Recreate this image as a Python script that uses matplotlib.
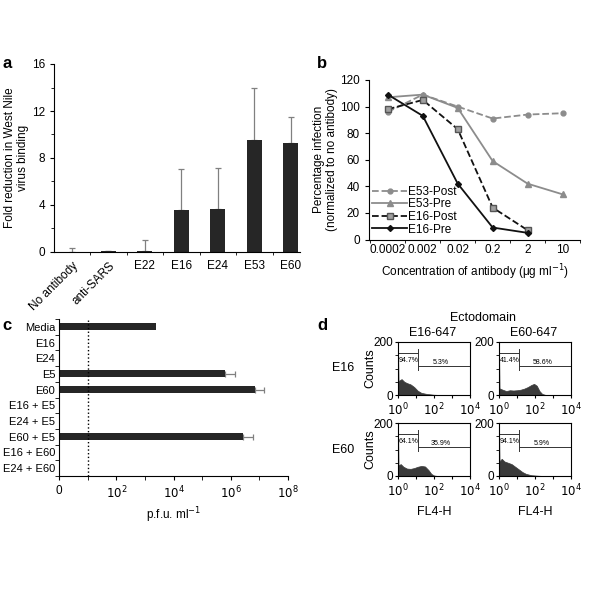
import numpy as np
import matplotlib
matplotlib.use('Agg')
import matplotlib.pyplot as plt

plt.rcParams['font.family'] = ['Liberation Sans', 'DejaVu Sans']
plt.rcParams['font.size'] = 8
plt.rcParams['axes.linewidth'] = 0.8
plt.rcParams['xtick.major.width'] = 0.8
plt.rcParams['ytick.major.width'] = 0.8
plt.rcParams['xtick.major.size'] = 3
plt.rcParams['ytick.major.size'] = 3
plt.rcParams['xtick.minor.size'] = 2
plt.rcParams['ytick.minor.size'] = 2

# ---- data ----
# panel a
a_labels = ['No antibody', 'anti-SARS', 'E22', 'E16', 'E24', 'E53', 'E60']
a_means = [0.0, 0.05, 0.1, 3.57, 3.66, 9.53, 9.28]
a_err = [0.3, 0.04, 0.95, 3.49, 3.49, 4.4, 2.21]

# panel b
b_conc = ['0.0002', '0.002', '0.02', '0.2', '2', '10']
e53_post = [96, 109, 100, 91, 94, 95]
e53_pre = [107, 109, 99, 59, 42, 34]
e16_post = [98, 105, 83, 24, 7]
e16_pre = [109, 93, 42, 9, 5]

# panel c
c_labels = ['Media', 'E16', 'E24', 'E5', 'E60', 'E16 + E5', 'E24 + E5',
            'E60 + E5', 'E16 + E60', 'E24 + E60']
c_pfu = [2400, 0, 0, 6.3e5, 7.0e6, 0, 0, 2.7e6, 0, 0]
c_err_top = [0, 0, 0, 1.35e6, 1.5e7, 0, 0, 6.0e6, 0, 0]
c_limit = 10

# panel d  (log10 FL4-H, counts)
d_dec_tl = [0, 0.03, 0.08, 0.2, 0.35, 0.5, 0.7, 0.9, 1.1, 1.3, 1.6, 2.0, 2.4]
d_cnt_tl = [190, 50, 55, 60, 50, 45, 40, 30, 16, 8, 4, 1, 0]
d_dec_tr = [0, 0.03, 0.2, 0.4, 0.6, 0.8, 1.0, 1.2, 1.4, 1.6, 1.8, 1.95, 2.1, 2.25, 2.4, 2.6]
d_cnt_tr = [190, 25, 20, 15, 18, 17, 18, 20, 24, 30, 38, 42, 35, 15, 4, 0]
d_dec_bl = [0, 0.03, 0.15, 0.3, 0.5, 0.7, 0.9, 1.1, 1.3, 1.5, 1.7, 1.85, 2.0, 2.2]
d_cnt_bl = [190, 40, 45, 35, 28, 27, 30, 35, 38, 36, 22, 8, 2, 0]
d_dec_br = [0, 0.03, 0.15, 0.3, 0.5, 0.7, 0.9, 1.1, 1.3, 1.5, 1.8, 2.2, 2.5]
d_cnt_br = [190, 55, 65, 55, 50, 45, 35, 25, 15, 8, 3, 1, 0]
d_pct_left = ['94.7%', '41.4%', '64.1%', '94.1%']
d_pct_right = ['5.3%', '58.6%', '35.9%', '5.9%']
d_gate = 10 ** 1.1

W = 600.0


def box(x0, y0, x1, y1):
    return [x0 / W, 1 - y1 / W, (x1 - x0) / W, (y1 - y0) / W]


fig = plt.figure(figsize=(6, 6), dpi=100)

# ---------------- panel a ----------------
ax = fig.add_axes(box(54, 64, 300, 252))
xa = np.arange(len(a_labels))
ax.bar(xa, a_means, width=0.41, color='#262626', zorder=2)
ax.errorbar(xa, a_means, yerr=[np.zeros(len(a_err)), a_err], fmt='none',
            ecolor='#808080', elinewidth=0.9, capsize=2, capthick=0.9, zorder=1)
ax.set_ylim(0, 16)
ax.set_xlim(-0.49, 6.25)
ax.set_yticks([0, 4, 8, 12, 16])
ax.set_yticks([2, 6, 10, 14], minor=True)
ax.set_xticks(xa)
ax.set_xticks(xa[:-1] + 0.5, minor=True)
ax.tick_params(axis='x', which='major', length=0, pad=6)
ax.set_xticklabels(a_labels, fontsize=8.5)
for lab in ax.get_xticklabels()[:2]:
    lab.set_rotation(45)
    lab.set_ha('right')
    lab.set_va('top')
    lab.set_rotation_mode('anchor')
ax.tick_params(axis='y', labelsize=8.5)
ax.spines['top'].set_visible(False)
ax.spines['right'].set_visible(False)
ax.set_ylabel('Fold reduction in West Nile\nvirus binding', fontsize=8.5)
ax.yaxis.set_label_coords(-0.10, 0.5)

# ---------------- panel b ----------------
ax = fig.add_axes(box(369, 80, 580, 239.5))
xb = np.arange(len(b_conc))
ax.plot(xb, e53_post, '--', color='#8c8c8c', lw=1.3, marker='o', ms=3.5,
        label='E53-Post')
ax.plot(xb, e53_pre, '-', color='#8c8c8c', lw=1.3, marker='^', ms=4.5,
        label='E53-Pre')
ax.plot(xb[:len(e16_post)], e16_post, '--', color='#111111', lw=1.3, marker='s',
        ms=4.5, mfc='#a0a0a0', mec='#555555', label='E16-Post')
ax.plot(xb[:len(e16_pre)], e16_pre, '-', color='#111111', lw=1.3, marker='D',
        ms=3, label='E16-Pre')
ax.set_ylim(0, 120)
ax.set_xlim(-0.54, 5.49)
ax.set_yticks(np.arange(0, 121, 20))
ax.set_xticks(xb)
ax.set_xticklabels(b_conc)
ax.set_xticks(np.arange(-0.5, 5.6, 1.0), minor=True)
ax.tick_params(axis='x', which='major', length=0)
ax.tick_params(labelsize=8.5)
ax.spines['top'].set_visible(False)
ax.spines['right'].set_visible(False)
ax.set_ylabel('Percentage infection\n(normalized to no antibody)', fontsize=8.5)
ax.yaxis.set_label_coords(-0.145, 0.5)
ax.set_xlabel('Concentration of antibody (\u03bcg ml$^{-1}$)', fontsize=8.5,
              labelpad=4)
ax.legend(loc='lower left', bbox_to_anchor=(-0.02, -0.02), frameon=False,
          fontsize=8.5, handlelength=3.0, handletextpad=0.1, labelspacing=0.05,
          borderaxespad=0.2)

# ---------------- panel c ----------------
ax = fig.add_axes(box(59.3, 319, 288, 476))
yc = np.arange(len(c_labels))
pfu = np.array(c_pfu, dtype=float)
top = np.array(c_err_top, dtype=float)
has = pfu > 0
ax.barh(yc[has], pfu[has] - 1, left=1, height=0.44, color='#262626', zorder=2)
errb = top - pfu
ebar = has & (errb > 0)
ax.errorbar(pfu[ebar], yc[ebar], xerr=[np.zeros(ebar.sum()), errb[ebar]],
            fmt='none', ecolor='#808080', elinewidth=0.9, capsize=2,
            capthick=0.9, zorder=1)
ax.axvline(c_limit, color='black', ls=':', lw=1.0)
ax.set_xscale('log')
ax.set_xlim(1, 1e8)
ax.set_ylim(9.45, -0.5)
ax.set_xticks([1, 1e2, 1e4, 1e6, 1e8])
ax.set_xticklabels(['0', '$10^2$', '$10^4$', '$10^6$', '$10^8$'])
ax.set_xticks([1e1, 1e3, 1e5, 1e7], minor=True)
ax.xaxis.set_minor_formatter(plt.NullFormatter())
ax.tick_params(axis='x', which='minor', length=3)
ax.set_yticks(yc)
ax.set_yticklabels(c_labels)
ax.set_yticks(np.arange(-0.5, 9.6, 1.0), minor=True)
ax.tick_params(axis='y', which='major', length=0, pad=3)
ax.tick_params(axis='y', which='minor', length=3)
ax.tick_params(axis='y', labelsize=8)
ax.tick_params(axis='x', labelsize=8.5)
ax.spines['top'].set_visible(False)
ax.spines['right'].set_visible(False)
ax.set_xlabel('p.f.u. ml$^{-1}$', fontsize=8.5, labelpad=3)

# ---------------- panel d ----------------
d_boxes = [box(398, 342, 470, 395), box(499, 342, 571, 395),
           box(398, 423, 470, 476), box(499, 423, 571, 476)]
d_decs = [d_dec_tl, d_dec_tr, d_dec_bl, d_dec_br]
d_cnts = [d_cnt_tl, d_cnt_tr, d_cnt_bl, d_cnt_br]
for i in range(4):
    ax = fig.add_axes(d_boxes[i])
    xs = 10 ** np.array(d_decs[i])
    ax.fill_between(xs, 0, d_cnts[i], color='#3a3a3a', lw=0.5)
    ax.set_xscale('log')
    ax.set_xlim(1, 1e4)
    ax.set_ylim(0, 200)
    ax.plot([1, d_gate], [158, 158], color='#333333', lw=0.7)
    ax.plot([d_gate, 1e4], [108, 108], color='#333333', lw=0.7)
    ax.plot([d_gate, d_gate], [95, 172], color='#333333', lw=0.7)
    ax.text(1.1, 130, d_pct_left[i], fontsize=5, ha='left', va='center')
    ax.text(10 ** 2.4, 124, d_pct_right[i], fontsize=5, ha='center',
            va='center')
    ax.set_xticks([1, 10, 100, 1000, 1e4])
    ax.set_xticklabels(['$10^0$', '', '$10^2$', '', '$10^4$'])
    ax.xaxis.set_minor_locator(plt.NullLocator())
    ax.set_yticks([0, 200])
    ax.set_yticks([50, 100, 150], minor=True)
    ax.tick_params(labelsize=8.5, length=2.5)
    ax.tick_params(axis='x', pad=2.5)
    ax.tick_params(axis='y', pad=1)
    if i % 2 == 0:
        ax.set_ylabel('Counts', fontsize=9, labelpad=-2)
    if i >= 2:
        ax.set_xlabel('FL4-H', fontsize=9, labelpad=5)

fig.text(483 / W, 1 - 318 / W, 'Ectodomain', fontsize=9, ha='center', va='center')
fig.text(433 / W, 1 - 333 / W, 'E16-647', fontsize=9, ha='center', va='center')
fig.text(534 / W, 1 - 333 / W, 'E60-647', fontsize=9, ha='center', va='center')
fig.text(343 / W, 1 - 368 / W, 'E16', fontsize=9, ha='center', va='center')
fig.text(343 / W, 1 - 450 / W, 'E60', fontsize=9, ha='center', va='center')

# panel letters
for lt, px, py in [('a', 7, 64), ('b', 322, 63), ('c', 7, 325), ('d', 322, 325)]:
    fig.text(px / W, 1 - py / W, lt, fontsize=12, fontweight='bold',
             ha='center', va='center')

fig.savefig('out.png', dpi=100)
